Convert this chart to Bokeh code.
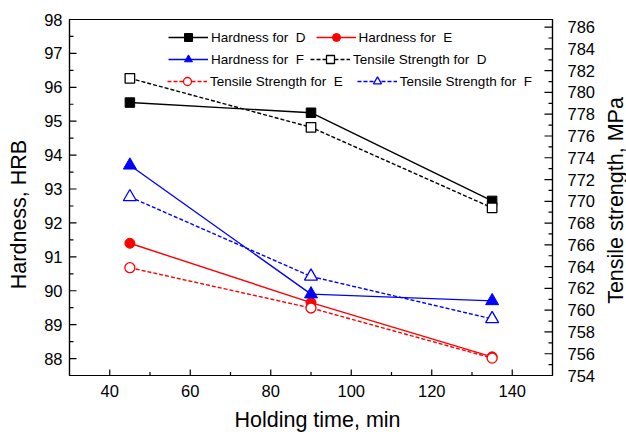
import math
from bokeh.plotting import figure
from bokeh.layouts import row, column
from bokeh.models import (Range1d, LinearAxis, FixedTicker, Legend, LegendItem, Label)
from bokeh.embed import file_html
from bokeh.resources import INLINE

# ---- data ----
times = [45, 90, 135]
hard_D = [95.55, 95.25, 92.65]
hard_E = [91.4, 89.65, 88.05]
hard_F = [93.7, 89.9, 89.7]
ts_D = [781.3, 776.8, 769.4]
ts_E = [763.9, 760.2, 755.6]
ts_F = [770.4, 763.1, 759.2]

x_ticks = [40, 60, 80, 100, 120, 140]
x_minor = [50, 70, 90, 110, 130]
y_ticks = [88, 89, 90, 91, 92, 93, 94, 95, 96, 97, 98]
y_minor = [88.5 + i for i in range(10)]
y2_ticks = list(range(754, 788, 2))
y2_minor = list(range(755, 787, 2))

x_title = "Holding time, min"
y_title = "Hardness, HRB"
y2_title = "Tensile strength, MPa"

X0, X1 = 30, 150
Y0, Y1 = 87.5, 98
Y20, Y21 = 754, 786.7

FONT = "Liberation Sans"
TICK_FS = "16.5px"
TITLE_FS = "21.5px"

# ---- main plot ----
p = figure(width=570, height=406, output_backend="svg", toolbar_location=None,
           x_range=Range1d(X0, X1), y_range=Range1d(Y0, Y1),
           min_border_left=39, min_border_right=48, min_border_top=19,
           min_border_bottom=31)
p.extra_y_ranges = {"ts": Range1d(Y20, Y21)}
p.xgrid.visible = False
p.ygrid.visible = False
p.outline_line_color = "black"
p.outline_line_width = 1.2
p.background_fill_color = "white"
p.border_fill_color = "white"

def style_axis(ax, ticks, standoff):
    ax.ticker = FixedTicker(ticks=ticks, minor_ticks=[])
    ax.major_tick_in = 0
    ax.major_tick_out = 0
    ax.minor_tick_in = 0
    ax.minor_tick_out = 0
    ax.axis_line_color = "black"
    ax.axis_line_width = 1.2
    ax.major_label_text_font = FONT
    ax.major_label_text_font_size = TICK_FS
    ax.major_label_text_color = "black"
    ax.major_label_standoff = standoff

style_axis(p.xaxis[0], x_ticks, 9)
style_axis(p.yaxis[0], y_ticks, 7)
ya2 = LinearAxis(y_range_name="ts")
style_axis(ya2, y2_ticks, 15)
p.add_layout(ya2, "right")

# ---- inward tick marks (clipped at the frame edge) ----
tk = dict(line_color="black", line_width=1.2)
p.scatter([X0] * len(y_ticks), y_ticks, marker="dash", size=14, **tk)
p.scatter([X0] * len(y_minor), y_minor, marker="dash", size=8, **tk)
p.scatter(x_ticks, [Y0] * len(x_ticks), marker="dash", angle=math.pi / 2, size=12, **tk)
p.scatter(x_minor, [Y0] * len(x_minor), marker="dash", angle=math.pi / 2, size=7, **tk)
p.scatter([X1] * len(y2_ticks), y2_ticks, y_range_name="ts", marker="dash", size=16, **tk)
p.scatter([X1] * len(y2_minor), y2_minor, y_range_name="ts", marker="dash", size=8, **tk)

# ---- series ----
lw = 1.4
rD_l = p.line(times, hard_D, line_color="black", line_width=lw)
rD_s = p.scatter(times, hard_D, marker="square", size=9.5, fill_color="black", line_color="black")
rE_l = p.line(times, hard_E, line_color="red", line_width=lw)
rE_s = p.scatter(times, hard_E, marker="circle", size=10, fill_color="red", line_color="red")
rF_l = p.line(times, hard_F, line_color="blue", line_width=lw)
rF_s = p.scatter(times, hard_F, marker="triangle", size=13, fill_color="blue", line_color="blue")

tD_l = p.line(times, ts_D, y_range_name="ts", line_color="black", line_width=lw, line_dash="4 2")
tD_s = p.scatter(times, ts_D, y_range_name="ts", marker="square", size=9.5, fill_color="white",
                 line_color="black", line_width=1.3)
tE_l = p.line(times, ts_E, y_range_name="ts", line_color="red", line_width=lw, line_dash="4 2")
tE_s = p.scatter(times, ts_E, y_range_name="ts", marker="circle", size=10, fill_color="white",
                 line_color="red", line_width=1.3)
tF_l = p.line(times, ts_F, y_range_name="ts", line_color="blue", line_width=lw, line_dash="4 2")
tF_s = p.scatter(times, ts_F, y_range_name="ts", marker="triangle", size=13, fill_color="white",
                 line_color="blue", line_width=1.3)

rows = [
    ([("Hardness for  D", [rD_l, rD_s]), ("Hardness for  E", [rE_l, rE_s])], (99, 328), 10),
    ([("Hardness for  F", [rF_l, rF_s]), ("Tensile Strength for  D", [tD_l, tD_s])], (99, 306), 6),
    ([("Tensile Strength for  E", [tE_l, tE_s]), ("Tensile Strength for  F", [tF_l, tF_s])], (98, 284), 14),
]
for items, loc, sp in rows:
    lg = Legend(items=[LegendItem(label=t, renderers=r) for t, r in items],
                location=loc, orientation="horizontal", padding=0, margin=0,
                spacing=sp, glyph_width=40, glyph_height=20, label_height=20,
                label_standoff=3, border_line_alpha=0, background_fill_alpha=0,
                label_text_font=FONT, label_text_font_size="13.5px",
                label_text_color="black")
    p.add_layout(lg)

# ---- title strips (axis titles) ----
def strip(w, h, text, x, y, angle):
    f = figure(width=w, height=h, output_backend="svg", toolbar_location=None,
               x_range=Range1d(0, w), y_range=Range1d(0, h),
               x_axis_location=None, y_axis_location=None, min_border=0)
    f.grid.visible = False
    f.outline_line_color = None
    f.background_fill_color = "white"
    f.border_fill_color = "white"
    f.add_layout(Label(x=x, y=y, x_units="screen", y_units="screen", text=text,
                       angle=angle, text_align="center", text_baseline="middle",
                       text_font=FONT, text_font_size=TITLE_FS, text_color="black"))
    return f

p_left = strip(30, 432, y_title, 18, 218, math.pi / 2)
# the bottom strip's frame is aligned with the main frame (starts at its left edge)
p_bottom = strip(570, 26, x_title, 248, 13, 0)
p_right = strip(26, 432, y2_title, 15, 232, math.pi / 2)

layout = row(p_left, column(p, p_bottom, spacing=0), p_right, spacing=0)

open("out.html", "w").write(file_html(layout, INLINE))
